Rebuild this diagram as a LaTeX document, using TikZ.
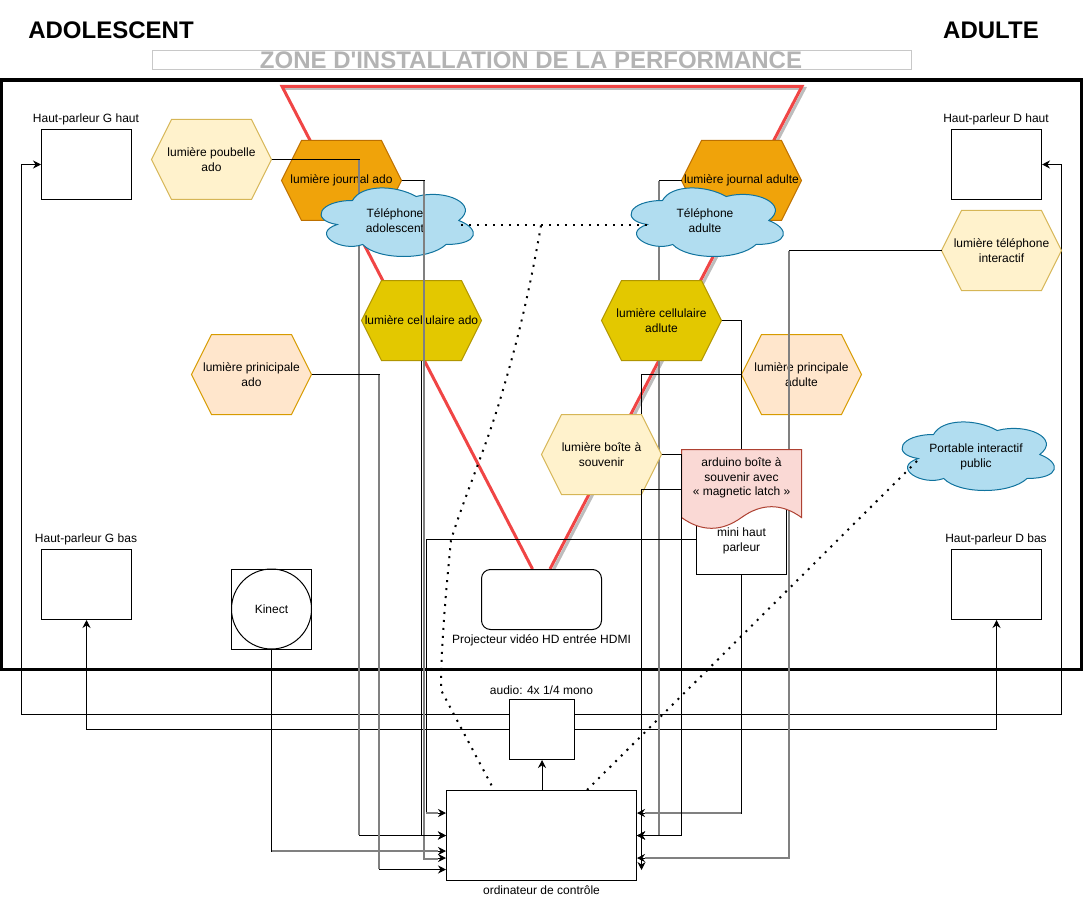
\documentclass[tikz,border=0pt]{standalone}
\usepackage{fontspec}
\usepackage{tikz}
\usetikzlibrary{arrows.meta}
\setmainfont{Liberation Sans}[Ligatures=TeXOff]

\definecolor{jauneclair}{HTML}{FFF2CC}
\definecolor{jaunetrait}{HTML}{D6B656}
\definecolor{orange}{HTML}{F0A30A}
\definecolor{orangetrait}{HTML}{BD7000}
\definecolor{jaune}{HTML}{E3C800}
\definecolor{jaunefonce}{HTML}{B09500}
\definecolor{peche}{HTML}{FFE6CC}
\definecolor{pechetrait}{HTML}{D79B00}
\definecolor{bleu}{HTML}{B1DDF0}
\definecolor{bleutrait}{HTML}{10739E}
\definecolor{rose}{HTML}{FAD9D5}
\definecolor{rosetrait}{HTML}{AE4132}
\definecolor{rouge}{HTML}{F04545}
\definecolor{ombre}{HTML}{BDBDBD}
\definecolor{titregris}{HTML}{B3B3B3}
\definecolor{cadregris}{HTML}{C8C8C8}

\tikzset{
  hexa/.style 2 args={minimum width=122pt,minimum height=82pt,inner sep=0pt,outer sep=-1pt,align=center,
    path picture={\filldraw[fill=#1,draw=#2] (path picture bounding box.center) ++(-60,0)
      -- ++(20,-40) -- ++(80,0) -- ++(20,40) -- ++(-20,40) -- ++(-80,0) -- cycle;}},
  nuage/.style={minimum width=172pt,minimum height=82pt,inner sep=0pt,outer sep=-1pt,align=center,
    path picture={\filldraw[fill=bleu,draw=bleutrait] (path picture bounding box.center) ++(-42.5,-20)
      .. controls +(-34,0) and +(-27.2,-4) .. ++(-15.3,24)
      .. controls +(-27.2,8.8) and +(-22.1,8) .. ++(25.5,20)
      .. controls +(15.3,16) and +(-17,16) .. ++(83.3,0)
      .. controls +(34,0) and +(21.25,8) .. ++(12.75,-24)
      .. controls +(21.25,-16) and +(29.75,-8) .. ++(-42.5,-24)
      .. controls +(-21.25,-12) and +(8.5,-16) .. ++(-63.75,4) -- cycle;}},
  feuille/.style={minimum width=122pt,minimum height=82pt,inner sep=0pt,outer sep=-1pt,
    path picture={\filldraw[fill=rose,draw=rosetrait] (path picture bounding box.center) ++(-60,-40)
      -- ++(120,0) -- ++(0,68) .. controls +(-20,-14.4) and +(20,-14.4) .. ++(-60,0)
      .. controls +(-20,14.4) and +(20,14.4) .. ++(-60,0) -- cycle;}},
  boite/.style={draw,fill=white,inner sep=0pt,align=center},
  pointille/.style={line width=2pt,dash pattern=on 2pt off 6pt},
  grisfil/.style={draw=black!50,line width=2pt}
}

\begin{document}
\begin{tikzpicture}[x=1pt,y=-1pt,line width=1pt,>={Stealth[length=8pt,width=8pt]},
    font=\fontsize{12}{14.5}\selectfont]
\useasboundingbox (0,0) rectangle (1083,901);

\node[font=\fontsize{24}{28}\selectfont\bfseries] (ado) at (111,30) {ADOLESCENT};
\node[font=\fontsize{24}{28}\selectfont\bfseries] (adulte) at (991,30) {ADULTE};
\node[draw=cadregris,minimum width=759pt,minimum height=19pt,inner sep=0pt] (zone) at (531.5,60.5) {};
\node[font=\fontsize{24}{28}\selectfont\bfseries,text=titregris] (zonetitre) at (531,60.5) {ZONE D'INSTALLATION DE LA PERFORMANCE};

\draw[line width=3.2pt] (1.5,80) rectangle (1081.5,669.5);

\draw[ombre,line width=3pt] (284.5,88.5) -- (804.5,88.5) -- (552.5,571.5);
\draw[rouge,line width=3pt] (532.5,569) -- (282,86.3) -- (802,86.3) -- (550,569);

\node[boite,minimum width=90pt,minimum height=70pt] (hpgh) at (86.5,164.5) {};
\node (hpghtxt) at (86,119.5) {Haut-parleur G haut};
\node[boite,minimum width=90pt,minimum height=70pt] (hpdh) at (996.5,164.5) {};
\node (hpdhtxt) at (996,119.5) {Haut-parleur D haut};
\node[boite,minimum width=90pt,minimum height=70pt] (hpgb) at (86.5,584.5) {};
\node (hpgbtxt) at (86,539.5) {Haut-parleur G bas};
\node[boite,minimum width=90pt,minimum height=70pt] (hpdb) at (996.5,584.5) {};
\node (hpdbtxt) at (996,539.5) {Haut-parleur D bas};

\node[draw,minimum size=80pt,inner sep=0pt] (kinectcadre) at (271.5,609) {};
\node[draw,circle,minimum size=80pt,inner sep=0pt] (kinect) at (271.5,609) {Kinect};

\node[boite,rounded corners=9pt,minimum width=120pt,minimum height=60pt] (projecteur) at (541.5,599.5) {};
\node (projecteurtxt) at (541.5,640) {Projecteur vidéo HD entrée HDMI};

\node[boite,minimum width=65pt,minimum height=60pt] (audio) at (542,729.5) {};
\node (audiotxt) at (541.5,690) {audio: 4x 1/4 mono};
\node[boite,minimum width=190pt,minimum height=90pt] (ordi) at (541.5,835.5) {};
\node (orditxt) at (541.5,890.5) {ordinateur de contrôle};

\coordinate (audioGh) at (509.5,714.5);
\coordinate (audioDh) at (574.5,714.5);
\coordinate (ordiGa) at (446,813);
\coordinate (ordiGb) at (446,835.5);
\coordinate (ordiGc) at (446,851);
\coordinate (ordiGd) at (446,858);
\coordinate (ordiGe) at (446,869.5);
\coordinate (ordiDa) at (637,813);
\coordinate (ordiDb) at (637,835.5);
\coordinate (ordiDc) at (637,858);
\coordinate (ordiDd) at (641.5,870);
\coordinate (ordiHa) at (494,790);
\coordinate (ordiHb) at (587,790);
\coordinate (telG) at (461,225.5);
\coordinate (telM) at (541,225.5);
\coordinate (telD) at (648,225.5);
\coordinate (portG) at (917,461);

\draw[->] (audioGh) -| (21.5,164.5) -- (hpgh.west);
\draw[->] (audio.west) -| (hpgb.south);
\draw[->] (audioDh) -| (1061.5,164.5) -- (hpdh.east);
\draw[->] (audio.east) -| (hpdb.south);
\draw[->] (ordi.north -| audio.south) -- (audio.south);
\draw[->] (kinect.south) |- (ordiGc);
\draw[grisfil] (272,851) -- (438,851);

\node[hexa={orange}{orangetrait}] (journalado) at (341.5,180.5) {lumière journal ado};
\node[hexa={orange}{orangetrait}] (journaladulte) at (741.5,180.5) {lumière journal adulte};
\node[hexa={jauneclair}{jaunetrait}] (poubelle) at (211.5,159.5) {lumière poubelle\\ado};

\draw[->] (poubelle.east) -| (359,835.5) -- (ordiGb);
\draw[grisfil] (359,160) -- (359,835);
\draw[->] (journaladulte.west) -| (659,835.5) -- (ordiDb);
\draw[grisfil] (659,181) -- (659,835);

\node[hexa={jaune}{jaunefonce}] (celluado) at (421.5,320.5) {lumière cellulaire ado};
\node[hexa={jaune}{jaunefonce}] (celluadulte) at (661.5,320.5) {lumière cellulaire\\adlute};
\node[hexa={peche}{pechetrait}] (principado) at (251.5,374.5) {lumière prinicipale\\ado};
\node[hexa={peche}{pechetrait}] (principadulte) at (801.5,374.5) {lumière principale\\adulte};
\node[hexa={jauneclair}{jaunetrait}] (telephone) at (1001.5,250.5) {lumière téléphone\\interactif};
\node[nuage] (telado) at (395,220.5) {Téléphone\\adolescent};
\node[nuage] (teladulte) at (705,220.5) {Téléphone\\adulte};
\node[nuage] (portable) at (976,454.5) {\rule{0pt}{13pt}Portable interactif\\public};

\draw[->] (journalado.east) -| (424,858) -- (ordiGd);
\draw[grisfil] (424,181) -- (424,859) -- (438,859);
\draw[->] (celluado.south) |- (ordiGb);
\draw[->] (principado.east) -| (379,869.5) -- (ordiGe);
\draw[grisfil] (379,375) -- (379,869);
\draw[->] (principadulte.west) -| (641.5,835.5) -- (ordiDb);
\draw[->] (celluadulte.east) -| (741.5,813) -- (ordiDa);
\draw[grisfil] (741,813) -- (645,813);
\draw[->] (telephone.west) -| (789,858) -- (ordiDc);
\draw[grisfil] (789,251) -- (789,858) -- (645,858);

\node[hexa={jauneclair}{jaunetrait}] (boitesouvenir) at (601.5,454.5) {lumière boîte à\\souvenir};
\node[boite,minimum width=90pt,minimum height=70pt] (mini) at (741.5,539.5) {};
\node[align=center] (minitxt) at (741.5,541) {mini haut\\parleur};
\node[feuille] (arduino) at (741.5,489.5) {};
\node[align=center] (arduinotxt) at (741.5,478) {arduino boîte à\\souvenir avec\\« magnetic latch »};

\draw[->] (boitesouvenir.east) -| (681.5,835.5) -- (ordiDb);
\draw[->] (mini.west) -| (426.5,813) -- (ordiGa);
\draw[grisfil] (426,813) -- (438,813);
\draw[->] (arduino.west) -| (ordiDd);

\draw[pointille] (telG) -- (telD);
\draw[pointille] (telM) .. controls (528,300) and (515,350) .. (500,400)
  .. controls (485,450) and (465,495) .. (451,540)
  .. controls (445,600) and (441,650) .. (441,690) -- (ordiHa);
\draw[pointille] (portG) -- (ordiHb);
\end{tikzpicture}
\end{document}
